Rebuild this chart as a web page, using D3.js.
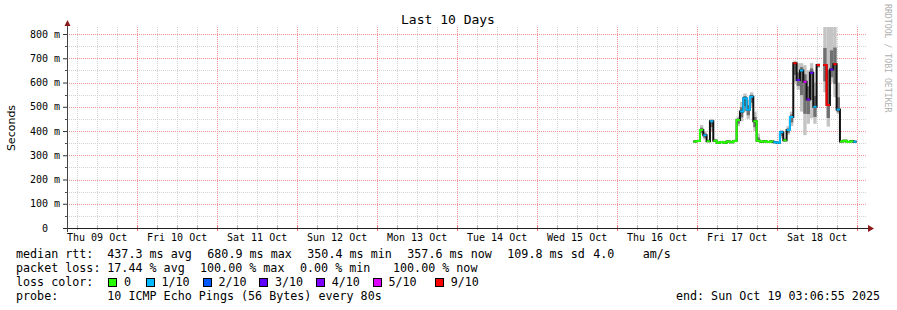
<!DOCTYPE html>
<html>
<head>
<meta charset="utf-8">
<script src="https://cdn.jsdelivr.net/npm/d3@7"></script>
<style>
  body { margin: 0; background: #fff; }
  svg text { font-family: "DejaVu Sans Mono", monospace; }
</style>
</head>
<body>
<div id="chart-wrapper"></div>
<script>
// Data (1 hour steps, starting Oct 16 23:00 UTC)
const startTime = Date.UTC(2025, 9, 16, 23, 0, 0)
const stepMs = 3600 * 1000
const medianMs = [357, 359, 404, 383, 358, 440, 360, 352, 355, 352, 357, 354, 359, 445, 480, 535, 488, 541, 440, 360, 356, 358, 355, 357, 354, 352, 395, 362, 404, 458, 679, 610, 650, 603, 530, 640, 500, 672, NaN, 672, 507, 654, 675, 489, 357, 360, 355, 358, 356]
const lossCount = [0, 0, 0, 1, 0, 1, 0, 0, 0, 0, 0, 0, 0, 0, 1, 1, 1, 1, 0, 0, 0, 0, 0, 0, 1, 1, 1, 0, 1, 1, 9, 3, 1, 5, 4, 3, 1, 9, NaN, 9, 9, 3, 9, 1, 0, 0, 0, 0, 1]
const smokeLo = [354, 355, 385, 365, 354, 400, 355, 349, 350, 349, 353, 350, 354, 420, 440, 480, 450, 500, 400, 355, 352, 353, 351, 352, 350, 349, 370, 355, 385, 420, 600, 570, 480, 383, 430, 453, 430, 660, NaN, 560, 418, 600, 540, 470, 353, 355, 351, 354, 352]
const smokeHi = [362, 364, 425, 400, 366, 450, 368, 358, 360, 358, 362, 360, 365, 460, 520, 555, 530, 560, 480, 390, 362, 363, 360, 362, 360, 358, 405, 372, 420, 480, 690, 680, 680, 672, 650, 680, 600, 680, NaN, 829, 829, 829, 829, 600, 362, 365, 360, 364, 362]

const yTicks = [0, 100, 200, 300, 400, 500, 600, 700, 800]
const lossLevels = ["0", "1/10", "2/10", "3/10", "4/10", "5/10", "9/10"]
const lossColors = ["#26ff00", "#00b8ff", "#0059ff", "#5e00ff", "#7e00ff", "#dd00ff", "#ff0000"]
const rowLabels = ["median rtt:", "packet loss:", "loss color:", "probe:"]
const rttStats = ["437.3 ms avg", "680.9 ms max", "350.4 ms min", "357.6 ms now", "109.8 ms sd", "4.0", "am/s"]
const lossStats = ["17.44 % avg", "100.00 % max", "0.00 % min", "100.00 % now"]
const probeText = "10 ICMP Echo Pings (56 Bytes) every 80s"
const endText = "end: Sun Oct 19 03:06:55 2025"
const titleText = "Last 10 Days"

const width = 897
const height = 310
const rangeStart = new Date(Date.UTC(2025, 9, 9, 3, 6, 55))
const rangeEnd = new Date(Date.UTC(2025, 9, 19, 3, 6, 55))

const data = medianMs.map((m, i) => ({
  t: new Date(startTime + i * stepMs),
  t2: new Date(startTime + (i + 1) * stepMs),
  median: m,
  loss: lossCount[i],
  lo: smokeLo[i],
  hi: smokeHi[i]
}))

const lossColor = (l) => {
  if (l >= 6) return lossColors[6]
  return lossColors[l]
}

const svg = d3.select("#chart-wrapper")
  .append("svg")
  .attr("width", width)
  .attr("height", height)

const x = d3.scaleUtc().domain([rangeStart, rangeEnd]).range([67, 867])
const y = d3.scaleLinear().domain([0, 829]).range([228, 27])

svg.append("defs").append("clipPath").attr("id", "plot")
  .append("rect").attr("x", 67).attr("y", 27).attr("width", 800).attr("height", 201)

// Grid (dotted, minor grey and major red)
const grid = svg.append("g").attr("shape-rendering", "crispEdges")
const minorX = d3.utcHour.every(6).range(rangeStart, rangeEnd).filter(d => d.getUTCHours() != 0)
const majorX = d3.utcDay.range(rangeStart, rangeEnd)
const minorY = d3.range(50, 829, 100)

grid.selectAll(".mx").data(minorX).join("line")
  .attr("x1", d => Math.round(x(d)) + 0.5).attr("x2", d => Math.round(x(d)) + 0.5)
  .attr("y1", 27).attr("y2", 228)
  .attr("stroke", "#d2d2d2").attr("stroke-dasharray", "1,1")
grid.selectAll(".my").data(minorY).join("line")
  .attr("x1", 67).attr("x2", 867)
  .attr("y1", d => Math.round(y(d)) + 0.5).attr("y2", d => Math.round(y(d)) + 0.5)
  .attr("stroke", "#d2d2d2").attr("stroke-dasharray", "1,1")
grid.selectAll(".Mx").data(majorX).join("line")
  .attr("x1", d => Math.round(x(d)) + 0.5).attr("x2", d => Math.round(x(d)) + 0.5)
  .attr("y1", 27).attr("y2", 228)
  .attr("stroke", "#f09595").attr("stroke-dasharray", "1,1")
grid.selectAll(".My").data(yTicks.slice(1)).join("line")
  .attr("x1", 67).attr("x2", 867)
  .attr("y1", d => Math.round(y(d)) + 0.5).attr("y2", d => Math.round(y(d)) + 0.5)
  .attr("stroke", "#f09595").attr("stroke-dasharray", "1,1")

// Smoke
const plot = svg.append("g").attr("clip-path", "url(#plot)")
const valid = data.filter(d => !isNaN(d.median))
plot.selectAll(".smoke").data(valid).join("rect")
  .attr("x", d => x(d.t)).attr("width", d => x(d.t2) - x(d.t))
  .attr("y", d => y(d.hi)).attr("height", d => y(d.lo) - y(d.hi))
  .attr("fill", "#c4c4c4")
plot.selectAll(".smoke2").data(valid).join("rect")
  .attr("x", d => x(d.t)).attr("width", d => x(d.t2) - x(d.t))
  .attr("y", d => y(d.median + (d.hi - d.median) * 0.45))
  .attr("height", d => y(d.median - (d.median - d.lo) * 0.6) - y(d.median + (d.hi - d.median) * 0.45))
  .attr("fill", "#707070")

// Median step line in black
const stepPoints = (filter) => {
  const pts = []
  data.forEach(d => {
    if (!isNaN(d.median) && filter(d)) {
      pts.push({t: d.t, v: d.median}, {t: d.t2, v: d.median})
    } else {
      pts.push(null)
    }
  })
  return pts
}
const line = d3.line().defined(d => d).x(d => x(d.t)).y(d => y(d.v))
plot.append("path")
  .attr("d", line(stepPoints(() => true)))
  .attr("fill", "none").attr("stroke", "#111").attr("stroke-width", 2)

// Loss coloured segments
lossColors.forEach((c, k) => {
  plot.append("path")
    .attr("d", line(stepPoints(d => lossColor(d.loss) == c)))
    .attr("fill", "none").attr("stroke", c).attr("stroke-width", 2)
})

// Axes
const xAxis = svg.append("g")
  .attr("transform", "translate(0,228)")
  .call(d3.axisBottom(x)
    .tickValues(d3.utcHour.every(12).range(rangeStart, rangeEnd).filter(d => d.getUTCHours() == 12))
    .tickFormat(d3.utcFormat("%a %d %b"))
    .tickSize(0).tickPadding(6))
xAxis.select(".domain").remove()
xAxis.selectAll("text").attr("font-size", 10).attr("fill", "#000")
  .attr("font-family", "DejaVu Sans Mono")

const yAxis = svg.append("g")
  .attr("transform", "translate(67,0)")
  .call(d3.axisLeft(y)
    .tickValues(yTicks)
    .tickFormat(d => d == 0 ? "0" : d + " m")
    .tickSize(4).tickPadding(3))
yAxis.select(".domain").remove()
yAxis.selectAll("line").attr("stroke", "#333")
yAxis.selectAll("text").attr("font-size", 10).attr("fill", "#000")
  .attr("font-family", "DejaVu Sans Mono")
  .attr("dx", d => d == 0 ? -12 : 0)

// minor ticks
svg.append("g").selectAll("line").data(minorY).join("line")
  .attr("x1", 65).attr("x2", 67)
  .attr("y1", d => Math.round(y(d)) + 0.5).attr("y2", d => Math.round(y(d)) + 0.5)
  .attr("stroke", "#555")
svg.append("g").selectAll("line").data(minorX).join("line")
  .attr("x1", d => Math.round(x(d)) + 0.5).attr("x2", d => Math.round(x(d)) + 0.5)
  .attr("y1", 226).attr("y2", 230).attr("stroke", "#aaa")
svg.append("g").selectAll("line").data(majorX).join("line")
  .attr("x1", d => Math.round(x(d)) + 0.5).attr("x2", d => Math.round(x(d)) + 0.5)
  .attr("y1", 225).attr("y2", 231).attr("stroke", "#e07070")

// axis lines and arrows
svg.append("line").attr("x1", 63).attr("x2", 869).attr("y1", 228.5).attr("y2", 228.5)
  .attr("stroke", "#222").attr("stroke-width", 1)
svg.append("line").attr("x1", 67.5).attr("x2", 67.5).attr("y1", 232).attr("y2", 24)
  .attr("stroke", "#444").attr("stroke-width", 1)
svg.append("path").attr("d", "M868,225L874,228.5L868,232Z").attr("fill", "#8a1a1a")
svg.append("path").attr("d", "M64.5,26L67.5,20L70.5,26Z").attr("fill", "#8a1a1a")

// Title and labels
svg.append("text").attr("x", 448).attr("y", 23.5).attr("text-anchor", "middle")
  .attr("font-size", 13).text(titleText)
svg.append("text").attr("transform", "translate(15,128) rotate(-90)")
  .attr("text-anchor", "middle").attr("font-size", 11)
  .style("font-family", "DejaVu Sans").text("Seconds")
svg.append("text").attr("transform", "translate(884.5,4) rotate(90)")
  .attr("font-size", 8.2).attr("fill", "#b0b0b0").text("RRDTOOL / TOBI OETIKER")

// Legend
const legend = svg.append("g").attr("font-size", 11.7).attr("fill", "#000")
const rowY = [258, 272, 286, 300]
legend.selectAll(".rl").data(rowLabels).join("text")
  .attr("x", 16).attr("y", (d, i) => rowY[i]).text(d => d)
const rttX = [107.3, 207.3, 307.3, 407.3, 507.3, 593.3, 642.7]
legend.selectAll(".rtt").data(rttStats).join("text")
  .attr("x", (d, i) => rttX[i]).attr("y", rowY[0]).text(d => d)
const lossX = [107.3, 200, 300, 393]
legend.selectAll(".ls").data(lossStats).join("text")
  .attr("x", (d, i) => lossX[i]).attr("y", rowY[1]).text(d => d)
const boxX = [108.3, 145.7, 202.7, 259.3, 316, 372.7, 435]
legend.selectAll(".box").data(lossColors).join("rect")
  .attr("x", (d, i) => Math.round(boxX[i]) + 0.5).attr("y", 278.5)
  .attr("width", 8).attr("height", 8)
  .attr("fill", d => d).attr("stroke", "#000").attr("stroke-width", 1)
legend.selectAll(".lvl").data(lossLevels).join("text")
  .attr("x", (d, i) => boxX[i] + 15.7).attr("y", rowY[2]).text(d => d)
legend.append("text").attr("x", 107.3).attr("y", rowY[3]).text(probeText)
legend.append("text").attr("x", 880).attr("y", rowY[3]).attr("text-anchor", "end").text(endText)
</script>
</body>
</html>
